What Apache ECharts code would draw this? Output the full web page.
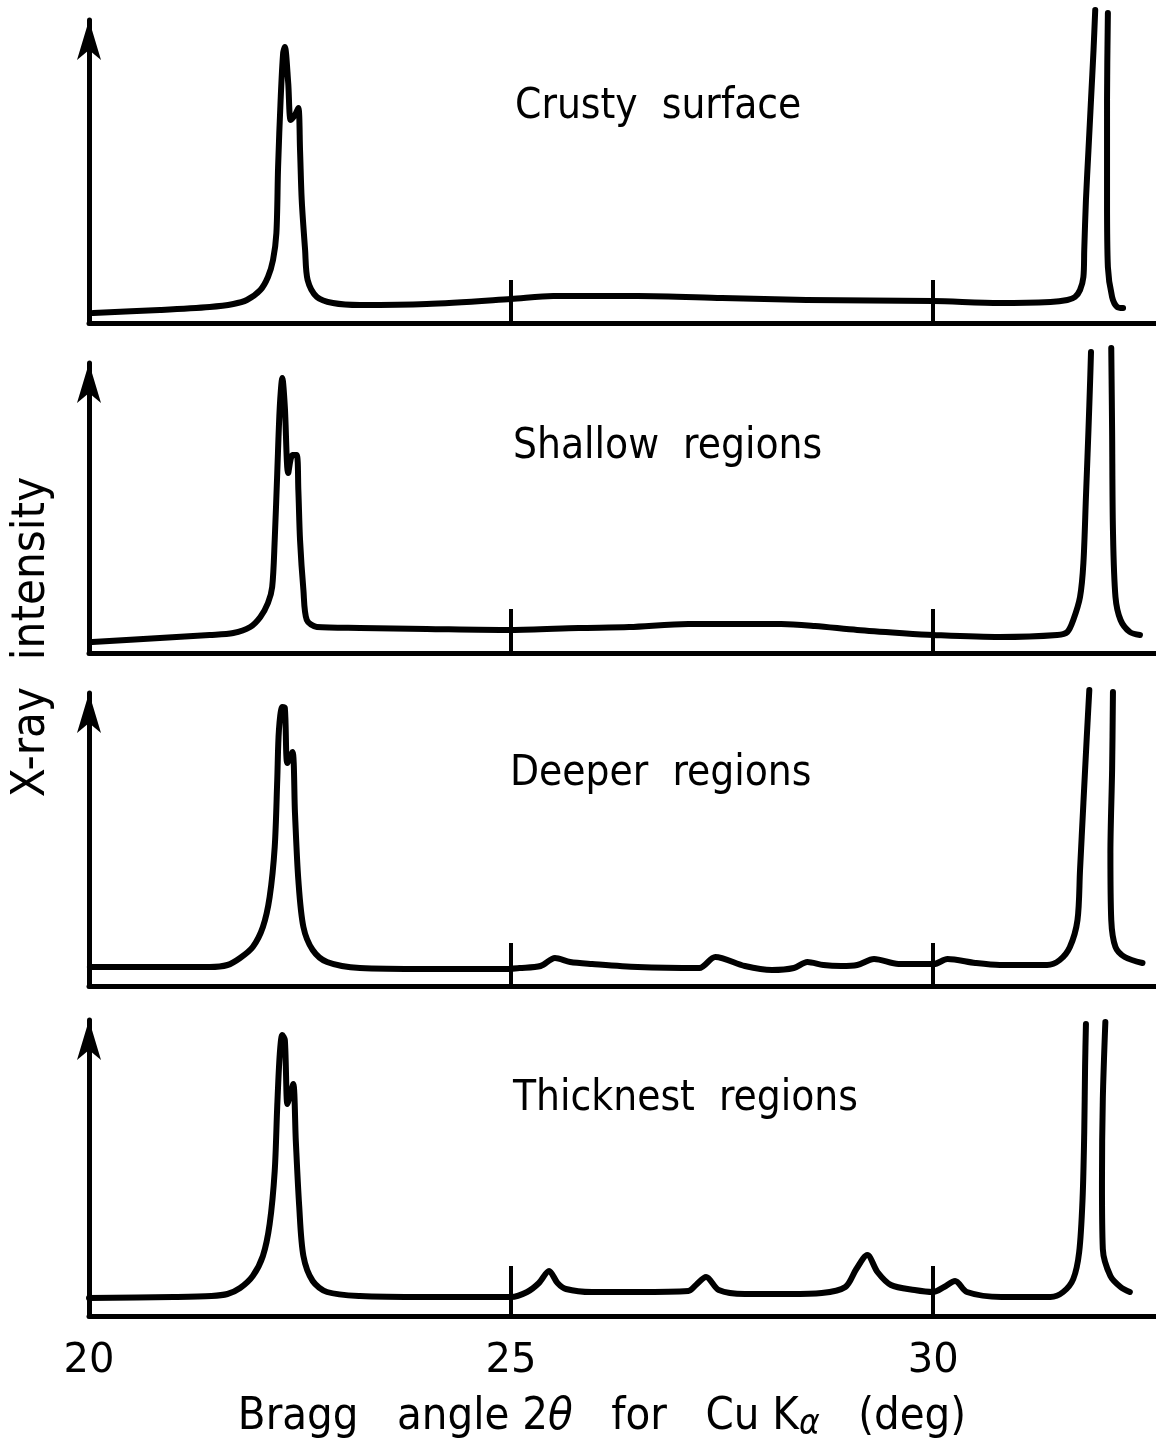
<!DOCTYPE html>
<html>
<head>
<meta charset="utf-8">
<script src="https://cdn.jsdelivr.net/npm/echarts@6/dist/echarts.min.js"></script>
<style>
  html, body { margin: 0; padding: 0; background: #fff; }
  #chart { width: 1156px; height: 1445px; }
</style>
</head>
<body>
<div id="chart"></div>
<script>
// ---- Data (2θ in degrees, X-ray intensity in arbitrary units) ----
const panelTitles = ['Crusty  surface', 'Shallow  regions', 'Deeper  regions', 'Thicknest  regions'];
const xTickLabels = [20, 25, 30];
const xTickMarks = [25, 30];
const xMin = 20, xMax = 32.64;
const yTitle = 'X-ray  intensity';

const crustySurface = [
  [20.05, 10], [20.84, 13], [21.43, 16], [21.71, 19], [21.87, 23], [22.03, 33], [22.12, 46],
  [22.18, 63], [22.22, 90], [22.24, 156], [22.27, 223], [22.30, 270], [22.32, 276], [22.36, 240],
  [22.39, 203], [22.44, 208], [22.48, 215], [22.50, 173], [22.52, 123], [22.56, 73], [22.59, 43],
  [22.70, 26], [22.89, 20], [23.21, 18], [24.00, 19], [25.00, 24], [25.50, 27], [26.50, 27],
  [27.50, 25], [28.50, 23], [30.00, 22], [30.79, 20], [31.39, 21], [31.59, 23], [31.68, 26],
  [31.74, 33], [31.78, 46], [31.79, 73], [31.81, 123], [31.84, 173], [31.87, 223], [31.90, 273],
  [31.92, 313],
  ['-', '-'],
  [32.07, 310], [32.06, 223], [32.06, 123], [32.07, 56], [32.12, 26], [32.18, 16], [32.25, 15]
];
const shallowRegions = [
  [20.04, 11], [20.84, 15], [21.43, 18], [21.71, 20], [21.91, 26], [22.03, 36], [22.12, 50],
  [22.17, 66], [22.20, 113], [22.23, 180], [22.26, 246], [22.29, 275], [22.32, 246], [22.36, 180],
  [22.41, 198], [22.46, 198], [22.48, 163], [22.50, 113], [22.54, 63], [22.58, 33], [22.70, 26],
  [23.21, 25], [24.00, 24], [25.00, 23], [25.80, 25], [26.40, 26], [27.10, 29], [28.20, 29],
  [28.60, 27], [29.10, 23], [29.60, 20], [30.00, 18], [30.79, 16], [31.47, 18], [31.59, 21],
  [31.66, 33], [31.74, 56], [31.78, 90], [31.81, 156], [31.84, 223], [31.86, 273], [31.87, 301],
  ['-', '-'],
  [32.11, 305], [32.12, 223], [32.13, 123], [32.16, 56], [32.22, 33], [32.33, 21], [32.45, 18]
];
const deeperRegions = [
  [20.01, 19], [21.43, 19], [21.64, 21], [21.79, 28], [21.94, 39], [22.06, 59], [22.14, 89],
  [22.20, 139], [22.23, 206], [22.25, 256], [22.29, 279], [22.32, 278], [22.35, 223], [22.41, 234],
  [22.44, 173], [22.48, 106], [22.54, 59], [22.65, 36], [22.82, 24], [23.21, 18], [24.00, 17],
  [24.90, 17], [25.10, 18], [25.35, 20], [25.52, 28], [25.70, 24], [25.96, 22], [26.50, 19],
  [27.23, 18], [27.42, 29], [27.77, 20], [28.09, 16], [28.35, 18], [28.51, 24], [28.70, 21],
  [28.91, 20], [29.10, 21], [29.30, 27], [29.59, 22], [30.01, 22], [30.17, 27], [30.50, 23],
  [30.79, 21], [31.35, 21], [31.50, 26], [31.62, 39], [31.71, 66], [31.74, 116], [31.78, 183],
  [31.82, 249], [31.85, 296],
  ['-', '-'],
  [32.13, 294], [32.12, 216], [32.10, 133], [32.11, 66], [32.16, 39], [32.27, 29], [32.48, 23]
];
const thickestRegions = [
  [20.00, 18], [21.00, 19], [21.45, 20], [21.64, 22], [21.79, 28], [21.94, 40], [22.06, 60],
  [22.14, 92], [22.20, 145], [22.23, 210], [22.26, 262], [22.29, 281], [22.32, 276], [22.35, 212],
  [22.38, 220], [22.42, 232], [22.45, 175], [22.49, 110], [22.54, 60], [22.65, 35], [22.82, 24],
  [23.21, 20], [24.00, 19], [25.00, 19], [25.19, 24], [25.33, 33], [25.45, 45], [25.55, 33],
  [25.65, 27], [25.96, 24], [26.50, 24], [27.10, 25], [27.19, 31], [27.31, 39], [27.46, 26],
  [27.77, 22], [28.30, 22], [28.68, 23], [28.96, 29], [29.09, 47], [29.22, 61], [29.34, 44],
  [29.50, 31], [29.78, 26], [30.00, 24], [30.13, 29], [30.26, 35], [30.40, 24], [30.81, 19],
  [31.39, 19], [31.54, 24], [31.66, 37], [31.73, 64], [31.77, 117], [31.79, 184], [31.80, 250],
  [31.81, 292],
  ['-', '-'],
  [32.04, 294], [32.01, 217], [32.00, 134], [32.01, 67], [32.10, 40], [32.22, 29], [32.33, 24]
];
const panelData = [crustySurface, shallowRegions, deeperRegions, thickestRegions];

// ---- Layout ----
const gridBottoms = [323, 653, 986, 1316];
const gridHeights = [303, 290, 293, 296];
const tickLengths = [43, 44, 43, 50];
const titlePos = [[515, 105], [513, 445], [510, 772], [513, 1097]];
const FONT = "'Liberation Sans Narrow', 'DejaVu Sans Condensed', 'Liberation Sans', sans-serif";
const DIGIT_FONT = "'DejaVu Sans', sans-serif";

const grids = [], xAxes = [], yAxes = [], series = [], graphics = [];
for (let i = 0; i < 4; i++) {
  grids.push({ left: 89, width: 1067, top: gridBottoms[i] - gridHeights[i], height: gridHeights[i], containLabel: false });
  const last = i === 3;
  xAxes.push({
    gridIndex: i, type: 'value', min: xMin, max: xMax, interval: 5,
    axisLine: { show: true, onZero: false, lineStyle: { color: '#000', width: 5 } },
    axisTick: { show: true, inside: true, length: tickLengths[i], customValues: xTickMarks, lineStyle: { color: '#000', width: 4 } },
    axisLabel: { show: last, customValues: xTickLabels, margin: 26, color: '#000', fontSize: 40, fontFamily: DIGIT_FONT },
    splitLine: { show: false }
  });
  yAxes.push({
    gridIndex: i, type: 'value', min: 0, max: gridHeights[i],
    axisLine: { show: true, onZero: false, symbol: ['none', 'arrow'], symbolSize: [18, 40], lineStyle: { color: '#000', width: 5 } },
    axisTick: { show: false }, axisLabel: { show: false }, splitLine: { show: false }
  });
  series.push({
    type: 'line', xAxisIndex: i, yAxisIndex: i, data: panelData[i],
    showSymbol: false, clip: false, connectNulls: false,
    smooth: 0.3,
    lineStyle: { color: '#000', width: 6, cap: 'round', join: 'round' }
  });
  graphics.push({
    type: 'text', left: titlePos[i][0], top: titlePos[i][1] - 19,
    style: { text: panelTitles[i], fill: '#000', font: '42px ' + FONT }
  });
}

graphics.push({
  type: 'text', x: 32, y: 637, rotation: Math.PI / 2,
  style: { text: yTitle, fill: '#000', font: '47px ' + FONT, align: 'center', verticalAlign: 'middle' }
});
graphics.push({
  type: 'text', x: 602, y: 1417,
  style: {
    text: 'Bragg   angle 2{it|θ}   for   Cu K{sub|α}   (deg)',
    fill: '#000', font: '45px ' + FONT, align: 'center', verticalAlign: 'middle',
    rich: {
      it: { fontStyle: 'italic', fontSize: 45, fontFamily: FONT, fill: '#000' },
      sub: { fontStyle: 'italic', fontSize: 35, fontFamily: FONT, fill: '#000', padding: [16, 0, 0, 0] }
    }
  }
});

const chart = echarts.init(document.getElementById('chart'), null, { renderer: 'canvas' });
chart.setOption({
  animation: false,
  backgroundColor: '#fff',
  grid: grids, xAxis: xAxes, yAxis: yAxes, series: series,
  graphic: graphics
});
</script>
</body>
</html>
